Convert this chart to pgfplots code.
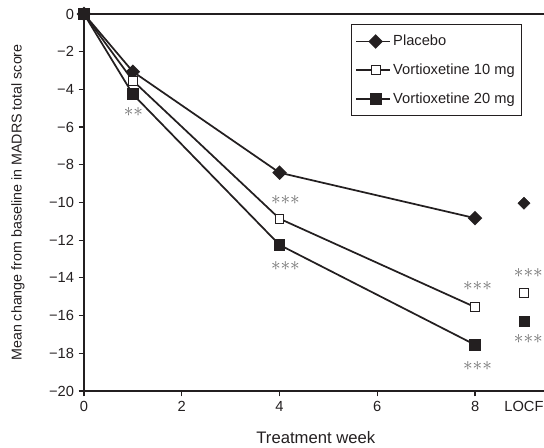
\documentclass[border=0pt]{standalone}
\usepackage{fontspec}
\setmainfont{Liberation Sans}
\usepackage{pgfplots}
\pgfplotsset{compat=1.18}
\definecolor{ink}{HTML}{231F20}
\definecolor{stargray}{HTML}{707070}
\newcommand{\three}{\fontsize{15}{15}\selectfont$\mathord{\ast}\mathord{\ast}\mathord{\ast}$}
\newcommand{\two}{\fontsize{15}{15}\selectfont$\mathord{\ast}\mathord{\ast}$}

\begin{document}
\begin{tikzpicture}
\begin{axis}[
    scale only axis, width=345pt, height=282.75pt,
    xmin=0, xmax=9.41, ymin=-20, ymax=0,
    axis x line*=box, axis y line*=left,
    axis line style={-, line width=1.1pt, ink},
    xtick pos=left, ytick pos=left,
    tick align=outside, major tick length=4pt,
    tick style={line width=0.9pt, ink},
    xtick={0,2,4,6,8}, xticklabels={0,2,4,6,8},
    extra x ticks={9}, extra x tick labels={LOCF},
    extra x tick style={major tick style={draw=none}},
    ytick={-20,-18,-16,-14,-12,-10,-8,-6,-4,-2,0},
    yticklabels={−20,−18,−16,−14,−12,−10,−8,−6,−4,−2,0},
    tick label style={font=\fontsize{11}{12}\selectfont, text=ink},
    xlabel={Treatment week},
    ylabel={Mean change from baseline in MADRS total score},
    xlabel style={at={(axis description cs:0.504,-0.1247)}, anchor=center, font=\fontsize{12.5}{14}\selectfont, text=ink},
    ylabel style={at={(axis description cs:-0.1435,0.5)}, anchor=center, font=\fontsize{10.7}{12}\selectfont, text=ink},
    legend style={at={(0.952,0.9735)}, anchor=north east, draw=ink, line width=0.8pt,
        inner xsep=3pt, inner ysep=6pt, row sep=8pt,
        font=\fontsize{11}{12}\selectfont, text=ink, cells={anchor=west}},
    legend image code/.code={\path (0pt,0pt) -- (4pt,0pt);
        \draw[mark repeat=2,mark phase=2] plot coordinates {(4pt,0pt) (14.5pt,0pt) (25pt,0pt)};},
    clip=false,
]
\addplot[ink, line width=1.3pt, mark=square*, mark size=3.2pt, mark options={fill=ink, rotate=45, solid}]
    coordinates {(0,0) (1,-3.06) (4,-8.42) (8,-10.83)};
\addlegendentry{Placebo}
\addplot[ink, line width=1.3pt, mark=square*, mark size=3.3pt, mark options={fill=white, line width=0.8pt, solid}]
    coordinates {(0,0) (1,-3.54) (4,-10.86) (8,-15.55)};
\addlegendentry{Vortioxetine 10 mg}
\addplot[ink, line width=1.3pt, mark=square*, mark size=3.8pt, mark options={fill=ink, solid}]
    coordinates {(0,0) (1,-4.26) (4,-12.25) (8,-17.55)};
\addlegendentry{Vortioxetine 20 mg}

% LOCF, not joined
\addplot[forget plot, only marks, ink, mark=square*, mark size=3.2pt, mark options={fill=ink, rotate=45}]
    coordinates {(9,-10.04)};
\addplot[forget plot, only marks, ink, mark=square*, mark size=3.3pt, mark options={fill=white, line width=0.8pt}]
    coordinates {(9,-14.8)};
\addplot[forget plot, only marks, ink, mark=square*, mark size=3.8pt, mark options={fill=ink}]
    coordinates {(9,-16.3)};

\node[stargray, inner sep=0pt] at (axis cs:1.01,-5.2) {\two};
\node[stargray, inner sep=0pt] at (axis cs:4.12,-9.87) {\three};
\node[stargray, inner sep=0pt] at (axis cs:4.12,-13.37) {\three};
\node[stargray, inner sep=0pt] at (axis cs:8.05,-14.43) {\three};
\node[stargray, inner sep=0pt] at (axis cs:8.05,-18.65) {\three};
\node[stargray, inner sep=0pt] at (axis cs:9.09,-13.76) {\three};
\node[stargray, inner sep=0pt] at (axis cs:9.09,-17.24) {\three};
\end{axis}
\pgfresetboundingbox
\path[use as bounding box] (-63pt,-42.75pt) rectangle (345pt,293.25pt);
\end{tikzpicture}
\end{document}
